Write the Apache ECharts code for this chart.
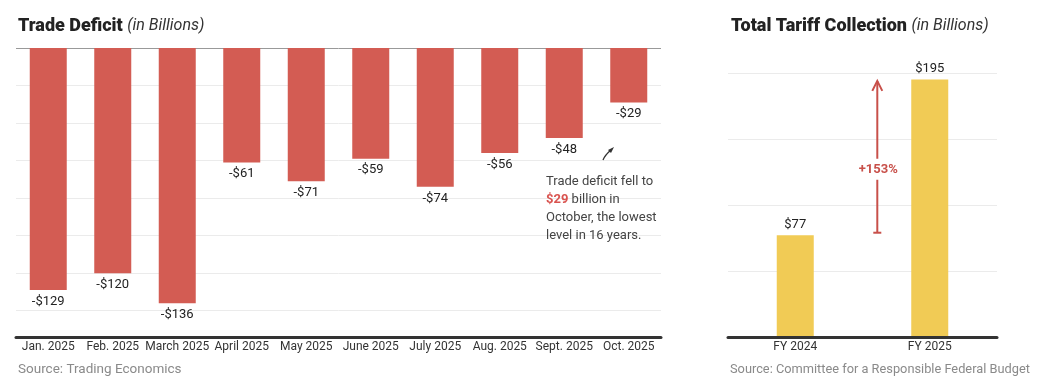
<!DOCTYPE html>
<html>
<head>
<meta charset="utf-8">
<script src="https://cdn.jsdelivr.net/npm/echarts@6/dist/echarts.min.js"></script>
<style>
  html, body { margin: 0; padding: 0; background: #fff; }
  #chart { width: 1040px; height: 389px; }
</style>
</head>
<body>
<div id="chart"></div>
<script>
// ---- Data ----
const months = ['Jan. 2025', 'Feb. 2025', 'March 2025', 'April 2025', 'May 2025', 'June 2025', 'July 2025', 'Aug. 2025', 'Sept. 2025', 'Oct. 2025'];
const deficit = [-129, -120, -136, -61, -71, -59, -74, -56, -48, -29];
const deficitGridStep = 20;   // gridlines every $20B of deficit
const deficitFloor = 154;     // depth of the plot area below zero
const fiscalYears = ['FY 2024', 'FY 2025'];
const tariffs = [77, 195];
const tariffChangeLabel = '+153%';

const FONT = 'Roboto, "Liberation Sans", sans-serif';
const RED = '#d35c53';
const YELLOW = '#f1cb55';
const ARROW_RED = '#c8504a';

const chart = echarts.init(document.getElementById('chart'), null, { renderer: 'canvas' });

const titleRich = {
  b: { fontFamily: FONT, fontSize: 18, fontWeight: 900, color: '#222' },
  i: { fontFamily: FONT, fontSize: 16, fontStyle: 'italic', fontWeight: 'normal', color: '#333' }
};

const gridColors = ['#999999'];
for (let i = 1; i < 9; i++) gridColors.push('#ebebeb');

const option = {
  backgroundColor: '#ffffff',
  animation: false,
  textStyle: { fontFamily: FONT },
  title: [
    { left: 18, top: 17, padding: 0, text: '{b|Trade Deficit} {i|(in Billions)}', textStyle: { rich: titleRich } },
    { left: 731, top: 17, padding: 0, text: '{b|Total Tariff Collection} {i|(in Billions)}', textStyle: { rich: titleRich } },
    {
      left: 18, top: 363, padding: 0,
      text: 'Source: Trading Economics',
      textStyle: { fontFamily: FONT, fontSize: 13.5, fontWeight: 'normal', color: '#8a8a8a' }
    },
    {
      left: 730, top: 363, padding: 0,
      text: 'Source: Committee for a Responsible Federal Budget',
      textStyle: { fontFamily: FONT, fontSize: 12.8, fontWeight: 'normal', color: '#8a8a8a' }
    }
  ],
  grid: [
    { left: 16, right: 379, top: 48, bottom: 52 },
    { left: 728, right: 43, top: 73, bottom: 52 }
  ],
  xAxis: [
    {
      type: 'category', gridIndex: 0, data: months,
      axisLine: { onZero: false, lineStyle: { color: '#333', width: 3 } },
      axisTick: { show: false },
      axisLabel: { color: '#333', fontSize: 12, margin: 4, interval: 0 },
      z: 5
    },
    {
      type: 'category', gridIndex: 1, data: fiscalYears,
      axisLine: { lineStyle: { color: '#333', width: 3 } },
      axisTick: { show: false },
      axisLabel: { color: '#333', fontSize: 12, margin: 4 },
      z: 5
    }
  ],
  yAxis: [
    {
      type: 'value', gridIndex: 0, min: -deficitFloor, max: 0,
      axisLine: { show: false }, axisTick: { show: false },
      axisLabel: { show: false }, splitLine: { show: false }
    },
    {
      type: 'value', gridIndex: 1, min: 0, max: 200, interval: 50,
      axisLine: { show: false }, axisTick: { show: false },
      axisLabel: { show: false },
      splitLine: { lineStyle: { color: '#ebebeb', width: 1 } }
    },
    {
      // gridline helper for the deficit panel (depth below zero, inverted)
      type: 'value', gridIndex: 0, min: 0, max: deficitFloor, interval: deficitGridStep, inverse: true,
      position: 'right',
      axisLine: { show: false }, axisTick: { show: false },
      axisLabel: { show: false },
      splitLine: { show: true, lineStyle: { color: gridColors, width: 1 } }
    }
  ],
  series: [
    {
      type: 'bar', xAxisIndex: 0, yAxisIndex: 0,
      data: deficit, barWidth: 37,
      itemStyle: { color: RED },
      label: {
        show: true, position: 'bottom', distance: 5,
        color: '#222', fontSize: 13,
        formatter: p => '-$' + Math.abs(p.value)
      },
      z: 3
    },
    {
      type: 'bar', xAxisIndex: 1, yAxisIndex: 1,
      data: tariffs, barWidth: 37,
      itemStyle: { color: YELLOW },
      label: {
        show: true, position: 'top', distance: 4,
        color: '#222', fontSize: 13,
        formatter: p => '$' + p.value
      },
      z: 3
    }
  ]
};

chart.setOption(option);

// ---- Annotations positioned through the axes ----
const c0 = chart.convertToPixel({ xAxisIndex: 1 }, fiscalYears[0]);
const c1 = chart.convertToPixel({ xAxisIndex: 1 }, fiscalYears[1]);
const ax = c0 + (c1 - c0) * 0.61;
const yTop = chart.convertToPixel({ yAxisIndex: 1 }, tariffs[1] - 1);
const yBot = chart.convertToPixel({ yAxisIndex: 1 }, tariffs[0] + 2);
const yLab = chart.convertToPixel({ yAxisIndex: 1 }, 127);

chart.setOption({
  graphic: [
    // right arrow
    { type: 'line', shape: { x1: ax, y1: yBot, x2: ax, y2: yTop }, style: { stroke: ARROW_RED, lineWidth: 2 }, z: 10 },
    { type: 'line', shape: { x1: ax - 4, y1: yBot, x2: ax + 4, y2: yBot }, style: { stroke: ARROW_RED, lineWidth: 2 }, z: 10 },
    { type: 'polyline', shape: { points: [[ax - 5, yTop + 10], [ax, yTop], [ax + 5, yTop + 10]] }, style: { stroke: ARROW_RED, lineWidth: 2, fill: null }, z: 10 },
    {
      type: 'text', x: ax + 1, y: yLab, z: 11,
      style: {
        text: tariffChangeLabel, fill: ARROW_RED, font: 'bold 13px ' + FONT,
        align: 'center', verticalAlign: 'middle',
        backgroundColor: '#fff', padding: [4, 2]
      }
    },
    // left annotation
    {
      type: 'text', left: 546, top: 173, z: 10,
      style: {
        text: 'Trade deficit fell to\n{r|$29} billion in\nOctober, the lowest\nlevel in 16 years.',
        fill: '#444', font: '13px ' + FONT, lineHeight: 18,
        rich: { r: { fill: '#d9534f', fontWeight: 'bold', fontSize: 13, fontFamily: FONT, lineHeight: 18 } }
      }
    },
    {
      type: 'bezierCurve', z: 10,
      shape: { x1: 603, y1: 160, x2: 611, y2: 150, cpx1: 605, cpy1: 155 },
      style: { stroke: '#333', lineWidth: 1.3, fill: null }
    },
    {
      type: 'polygon', z: 10,
      shape: { points: [[614, 147], [608, 150], [611, 153]] },
      style: { fill: '#333' }
    }
  ]
});
</script>
</body>
</html>
